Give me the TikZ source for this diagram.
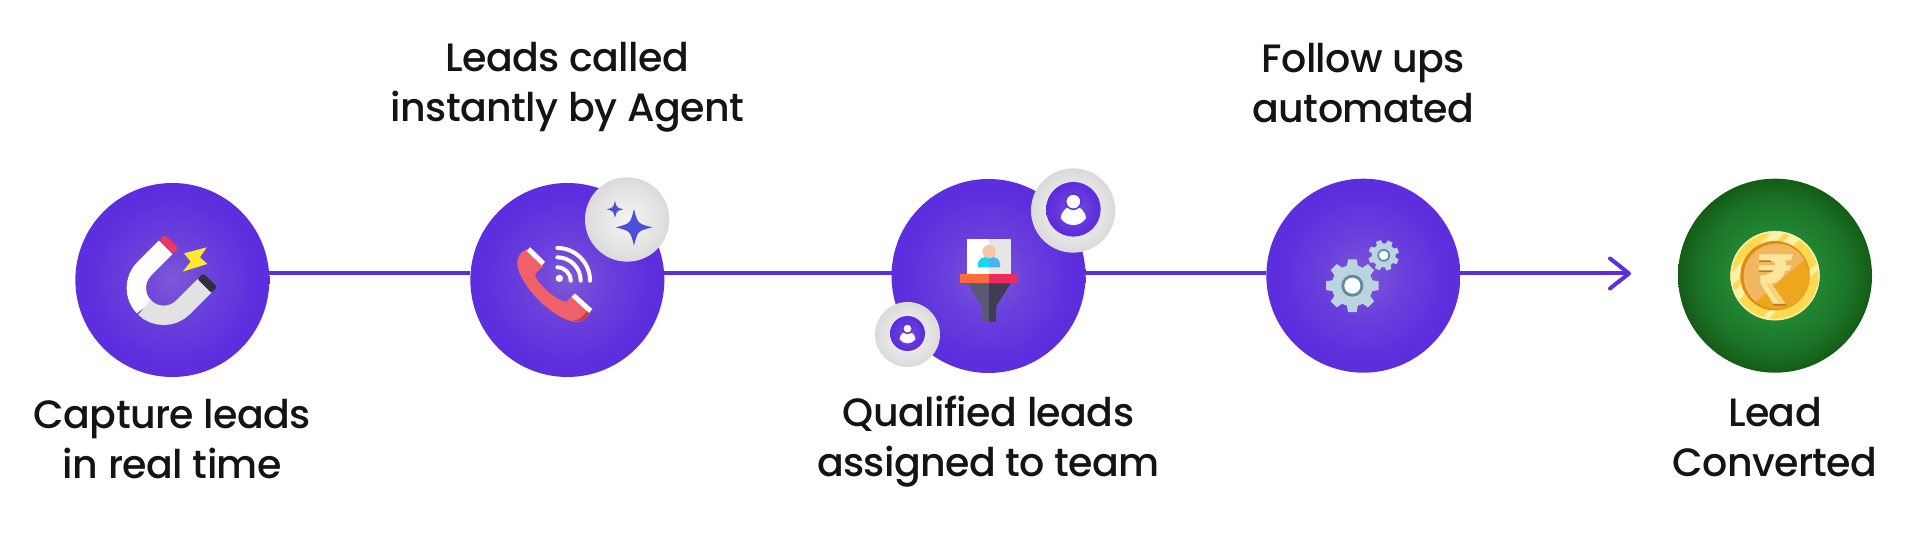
\documentclass[tikz,border=0pt]{standalone}
\usepackage{fontspec}
\setmainfont{Poppins}[UprightFont=* Medium, LetterSpace=-1.5]
\usetikzlibrary{positioning, arrows.meta}

\definecolor{flowpurple}{HTML}{5D2EDD}
\definecolor{glowpurple}{HTML}{7C58D8}
\definecolor{midpurple}{HTML}{693FDC}
\definecolor{glowgreen}{HTML}{2A9A3C}
\definecolor{midgreen}{HTML}{218A35}
\definecolor{outergreen}{HTML}{1C7428}
\definecolor{edgegreen}{HTML}{145C15}
\definecolor{glowgrey}{HTML}{F4F4F4}
\definecolor{outergrey}{HTML}{E2E2E2}
\definecolor{edgegrey}{HTML}{DADADA}
\definecolor{gearblue}{HTML}{BCD3E2}
\definecolor{gearring}{HTML}{5F8D9A}
\definecolor{phonered}{HTML}{F0606A}
\definecolor{phonedark}{HTML}{C93A4A}
\definecolor{sparkleblue}{HTML}{4C4EDC}
\definecolor{polered}{HTML}{EC3A5F}
\definecolor{poledark}{HTML}{2F2F3F}
\definecolor{boltyellow}{HTML}{FFE82E}
\definecolor{magnetgrey}{HTML}{E2E2E2}
\definecolor{cardgrey}{HTML}{E6E6E6}
\definecolor{leadcyan}{HTML}{18D8F0}
\definecolor{leadblue}{HTML}{4FB0F0}
\definecolor{leadskin}{HTML}{F5C6A8}
\definecolor{bandorange}{HTML}{FF6B3D}
\definecolor{bandred}{HTML}{EE2A5C}
\definecolor{funnellight}{HTML}{5A5878}
\definecolor{funneldark}{HTML}{3F3D52}
\definecolor{coinrim}{HTML}{FFD94F}
\definecolor{coinlight}{HTML}{FFF0A8}
\definecolor{coindark}{HTML}{DF8A12}
\definecolor{coinorange}{HTML}{EFA61F}
\definecolor{coinpeach}{HTML}{F0B660}
\definecolor{coinshadow}{HTML}{C2702A}
\definecolor{rupeecream}{HTML}{FCE69C}
\definecolor{rupeegold}{HTML}{F9D27A}

% the rim of a shaded circle sits at 25bp
\pgfdeclareradialshading{purpleglow}{\pgfpoint{0bp}{0bp}}{color(0bp)=(glowpurple); color(11bp)=(midpurple); color(22bp)=(flowpurple); color(50bp)=(flowpurple)}
\pgfdeclareradialshading{greenglow}{\pgfpoint{0bp}{0bp}}{color(0bp)=(glowgreen); color(10bp)=(midgreen); color(19bp)=(outergreen); color(25bp)=(edgegreen); color(50bp)=(edgegreen)}
\pgfdeclareradialshading{greyglow}{\pgfpoint{0bp}{0bp}}{color(0bp)=(glowgrey); color(19bp)=(outergrey); color(25bp)=(edgegrey); color(50bp)=(edgegrey)}

\tikzset{
    stagecircle/.style = {circle, minimum size = 3.88cm, inner sep = 0pt, outer sep = 0pt, shading = purpleglow},
    badge/.style = {circle, inner sep = 0pt, outer sep = 0pt, shading = greyglow},
    badgecore/.style = {circle, inner sep = 0pt, outer sep = 0pt, shading = purpleglow},
    stagetext/.style = {font = \fontsize{22.5}{28.45}\selectfont, align = center, inner sep = 0pt, text = black!92},
    flowline/.style = {flowpurple, line width = 0.08cm},
    % icons are traced in crop pixels, third of a picture pixel, y going down
    crop/.style n args = {3}{x = 0.00667cm, y = -0.00667cm, shift = {(#1)}, shift = {(-#2, -#3)}},
}

\newcommand{\gearicon}[4]{
    \begin{scope}[shift = {(#1, #2)}, scale = #3, rotate = #4]
        \fill[gearblue] (0, 0) circle[radius = 62];
        \foreach \a in {0, 45, ..., 315} {
            \fill[gearblue, rotate = \a] (50, -18) -- (79, -13) -- (79, 13) -- (50, 18) -- cycle;
        }
        \fill[gearring] (0, 0) circle[radius = 33];
        \fill[white] (0, 0) circle[radius = 24];
    \end{scope}
}
\newcommand{\sparkleicon}[3]{
    \fill[sparkleblue, shift = {(#1, #2)}, scale = #3] (1, 0) .. controls (0.2, 0.2) .. (0, 1) .. controls (-0.2, 0.2) .. (-1, 0) .. controls (-0.2, -0.2) .. (0, -1) .. controls (0.2, -0.2) .. (1, 0) -- cycle;
}
\newcommand{\personicon}[2]{
    \begin{scope}[shift = {(#1)}, x = 0.00667cm, y = -0.00667cm, scale = #2]
        \fill[white] (-38, 27) .. controls (-32, -22) and (32, -22) .. (38, 27) .. controls (20, 54) and (-20, 54) .. (-38, 27) -- cycle;
        \filldraw[white, draw = flowpurple, line width = 0.03cm] (0, -23) circle[radius = 23];
    \end{scope}
}

\begin{document}
\begin{tikzpicture}
\useasboundingbox (0, 0) rectangle (38.4, 11.04);

\node[stagecircle] (capture) at (3.447, 5.44) {};
\node[stagecircle] (called) at (11.347, 5.44) {};
\node[stagecircle] (qualified) at (19.77, 5.52) {};
\node[stagecircle] (followup) at (27.267, 5.526) {};
\node[stagecircle, shading = greenglow] (converted) at (35.5, 5.526) {};

\coordinate (flowlevel) at (0, 5.57);
\coordinate (arrowend) at (32.62, 5.57);
\draw[flowline] (capture.east |- flowlevel) -- (called.west |- flowlevel);
\draw[flowline] (called.east |- flowlevel) -- (qualified.west |- flowlevel);
\draw[flowline] (qualified.east |- flowlevel) -- (followup.west |- flowlevel);
\draw[flowline, -{Straight Barb[length = 0.38cm, width = 0.6cm, round]}] (followup.east |- flowlevel) -- (arrowend);

\node[badge, minimum size = 1.687cm] (sparkbadge) at (12.543, 6.65) {};
\node[badge, minimum size = 1.687cm] (teambadge) at (21.463, 6.83) {};
\node[badgecore, minimum size = 1.093cm] (teamcore) at (21.467, 6.854) {};
\node[badge, minimum size = 1.3cm] (agentbadge) at (18.15, 4.35) {};
\node[badgecore, minimum size = 0.7cm] (agentcore) at (18.15, 4.37) {};

\node[stagetext, below = 0.44cm of capture] (capturetext) {Capture leads\\in real time};
\node[stagetext, above = 1.0cm of called] (calledtext) {Leads called\\instantly by Agent};
\node[stagetext, below = 0.45cm of qualified] (qualifiedtext) {Qualified leads\\assigned to team};
\node[stagetext, above = 1.1cm of followup] (followuptext) {Follow ups\\automated};
\node[stagetext, below = 0.48cm of converted] (convertedtext) {Lead\\Converted};

% magnet
\begin{scope}[crop = {capture}{337}{330}]
    \draw[white, line width = 0.387cm] (317, 232) -- (253, 296) arc[start angle = 225, end angle = 135, radius = 82];
    \draw[magnetgrey, line width = 0.387cm] (253, 412) arc[start angle = 135, end angle = 45, radius = 82] -- (433, 348);
    \fill[polered, rounded corners = 1pt] (314, 194) -- (355, 235) -- (338, 252) -- (297, 211) -- cycle;
    \fill[poledark, rounded corners = 1pt] (430, 310) -- (471, 351) -- (454, 368) -- (413, 327) -- cycle;
    \fill[boltyellow] (372, 250) -- (440, 232) -- (420, 262) -- (442, 282) -- (368, 305) -- (392, 275) -- cycle;
\end{scope}

% phone and signal
\begin{scope}[crop = {called}{322}{330}]
    \fill[phonered] (200, 238) .. controls (180, 245) and (170, 262) .. (172, 285) .. controls (180, 345) and (270, 440) .. (340, 455) .. controls (365, 460) and (385, 445) .. (393, 420) -- (340, 372) -- (320, 395) .. controls (290, 395) and (225, 335) .. (225, 312) -- (250, 288) -- cycle;
    \fill[phonedark] (385, 412) -- (393, 420) .. controls (385, 445) and (365, 460) .. (335, 453) .. controls (360, 450) and (378, 435) .. (385, 412) -- cycle;
    \draw[white, line width = 0.1cm] (205, 237) -- (250, 281);
    \draw[white, line width = 0.1cm] (340, 376) -- (392, 423);
    \foreach \r in {40, 70, 98} {
        \draw[white, line width = 0.08cm, line cap = round] (292, 332 - \r) arc[start angle = 270, end angle = 360, radius = \r];
    }
    \fill[white] (298, 325) circle[radius = 11];
\end{scope}
\begin{scope}[crop = {sparkbadge}{501.5}{148.5}]
    \sparkleicon{522}{172}{55}
    \sparkleicon{465}{118}{25}
\end{scope}

% funnel with lead card
\begin{scope}[crop = {qualified}{385.5}{348}]
    \fill[white] (321, 237) rectangle (387, 341);
    \fill[cardgrey] (387, 237) rectangle (453, 341);
    \fill[leadcyan] (354, 322) -- (354, 310) .. controls (356, 295) and (370, 290) .. (387, 290) -- (387, 322) -- cycle;
    \fill[leadblue] (420, 322) -- (420, 310) .. controls (418, 295) and (404, 290) .. (387, 290) -- (387, 322) -- cycle;
    \fill[leadskin] (387, 275) circle[radius = 20];
    \fill[bandorange] (300, 341) rectangle (387, 370);
    \fill[bandred] (387, 341) rectangle (473, 370);
    \fill[funnellight] (322, 370) -- (387, 370) -- (387, 486) -- (366, 486) -- (366, 440) -- cycle;
    \fill[funneldark] (452, 370) -- (387, 370) -- (387, 486) -- (408, 486) -- (408, 440) -- cycle;
\end{scope}
\personicon{teamcore}{1}
\personicon{agentcore}{0.63}

% gears
\begin{scope}[crop = {followup}{310}{317}]
    \gearicon{277}{347}{1}{0}
    \gearicon{371}{256}{0.58}{20}
\end{scope}

% rupee coin
\begin{scope}[crop = {converted}{166}{166}]
    \fill[coinrim] (166, 166) circle[radius = 133];
    \begin{scope}
        \clip (166, 166) circle[radius = 133];
        \foreach \v/\w in {85/30, 40/30, -70/14} {
            \fill[coinlight, rotate around = {45:(166, 166)}] (20, 166 - \v - \w/2) rectangle (312, 166 - \v + \w/2);
        }
    \end{scope}
    \draw[coinlight, line width = 0.03cm] (166, 166) circle[radius = 132];
    \fill[coindark] (166, 166) circle[radius = 104];
    \fill[coinorange] (170, 168) circle[radius = 98];
    \begin{scope}
        \clip (170, 168) circle[radius = 98];
        \fill[coinpeach] (262, 110) -- (108, 245) -- (60, 245) -- (60, 60) -- (262, 60) -- cycle;
    \end{scope}
    \fill[coinshadow] (118, 120) rectangle (155, 125);
    \fill[coinshadow] (118, 150) rectangle (165, 155);
    \fill[coinshadow] (160, 250) -- (197, 250) -- (200, 256) -- (164, 256) -- cycle;
    \fill[rupeecream] (118, 102) -- (220, 102) -- (214, 120) -- (118, 120) -- cycle;
    \fill[rupeecream] (118, 135) -- (216, 135) -- (210, 150) -- (118, 150) -- cycle;
    \fill[rupeecream] (150, 120) .. controls (178, 120) and (175, 165) .. (122, 165) -- (122, 188) -- (160, 250) -- (197, 250) -- (155, 190) .. controls (195, 185) and (215, 130) .. (185, 102) -- cycle;
    \fill[rupeegold] (178, 250) -- (197, 250) -- (155, 190) -- (138, 190) -- cycle;
\end{scope}
\end{tikzpicture}
\end{document}
